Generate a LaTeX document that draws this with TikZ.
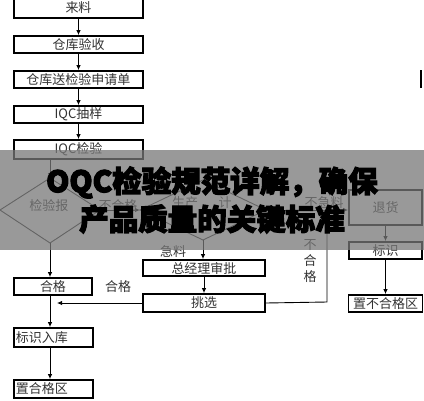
\documentclass[tikz,border=0pt]{standalone}
\usepackage{fontspec}
\setmainfont{Noto Sans CJK SC}
\newfontfamily\titlefont[BoldFeatures={FakeBold=4}]{Noto Sans CJK SC}
\usetikzlibrary{arrows.meta}
\begin{document}
\begin{tikzpicture}[x=1pt,y=-1pt,
  box/.style={draw=black,line width=1.8pt,fill=white,inner sep=0pt,font=\fontsize{13}{13}\selectfont,text=black!80},
  arr/.style={-{Latex[length=5pt,width=4.5pt]},line width=0.9pt},
  ln/.style={line width=0.9pt},
  lbl/.style={font=\fontsize{13}{13}\selectfont,text=black!80,inner sep=0pt},
  dia/.style={draw=black!85,line width=0.9pt}]
\useasboundingbox (0,0) rectangle (424,400);
\fill[white] (0,0) rectangle (424,400);

% left column
\node[box,minimum width=129pt,minimum height=21pt] (ll) at (78.5,7.5) {来料};
\node[box,minimum width=129pt,minimum height=17pt] (cs) at (78.5,44.5) {仓库验收};
\node[box,minimum width=129pt,minimum height=17pt] (sj) at (78.5,79.5) {仓库送检验申请单};
\node[box,minimum width=129pt,minimum height=17pt] (cy) at (78.5,114.5) {IQC抽样};
\node[box,minimum width=129pt,minimum height=19pt] (iqc) at (78.5,149.5) {IQC检验};
\draw[arr] (ll) -- (cs);
\draw[arr] (cs) -- (sj);
\draw[arr] (sj) -- (cy);
\draw[arr] (cy) -- (iqc);

% diamond 1
\coordinate (d1n) at (50,178);
\coordinate (d1e) at (100,210);
\coordinate (d1s) at (50,243);
\coordinate (d1w) at (0,210);
\draw[dia] (d1n) -- (d1e) -- (d1s) -- (d1w) -- cycle;
\node[lbl] (d1t) at (49,206) {检验报};
\draw[arr] (iqc.south -| d1n) -- (d1n);

% diamond 2
\coordinate (d2n) at (203,180);
\coordinate (d2e) at (266,210);
\coordinate (d2s) at (203,240);
\coordinate (d2w) at (140,210);
\draw[dia] (d2n) -- (d2e) -- (d2s) -- (d2w) -- cycle;
\node[lbl] (d2a) at (185,203) {生产};
\node[lbl] (d2b) at (225,203) {计};
\draw[arr] (d1e) -- (d2w);
\node[lbl] (bhg) at (118,206) {不合格};

% middle column
\node[box,minimum width=122pt,minimum height=16pt] (zjl) at (204,268) {总经理审批};
\node[box,minimum width=122pt,minimum height=18pt] (tx) at (204,303) {挑选};
\draw[arr] (d2s) -- (zjl.north -| d2s);
\node[lbl] (jl) at (173,252) {急料};
\draw[arr] (zjl) -- (tx);

% right column
\node[box,minimum width=73pt,minimum height=35pt] (th) at (385.5,207.5) {退货};
\node[box,minimum width=73pt,minimum height=17pt] (bs) at (385.5,250.5) {标识};
\node[box,minimum width=74pt,minimum height=17pt] (zbhg) at (385.5,303.5) {置不合格区};
\draw[arr] (th) -- (bs);
\draw[arr] (bs) -- (zbhg);
\draw[arr] (d2e) -- (th.west |- d2e);
\node[lbl] (bjl) at (324,203) {不急料};
\coordinate (jn) at (327,210);
\draw[ln] (tx.east) -- (327,302) -- (jn);
\node[lbl,align=center,font=\fontsize{13}{16}\selectfont] (bhg2) at (310,261) {不\\合\\格};

% left lower
\node[box,minimum width=78pt,minimum height=17pt] (hg) at (53,286.5) {合格};
\node[box,minimum width=79pt,minimum height=19pt,text width=75pt,align=left] (bsrk) at (53.5,337.5) {标识入库};
\node[box,minimum width=79pt,minimum height=18pt,text width=75pt,align=left] (zhg) at (53.5,389) {置合格区};
\draw[arr] (d1s) -- (hg.north -| d1s);
\draw[arr] (hg.south -| d1s) -- (bsrk.north -| d1s);
\draw[arr] (bsrk.south -| d1s) -- (zhg.north -| d1s);
\coordinate (hgin) at (57,303);
\draw[arr] (tx.west) -- (hgin);
\node[lbl] (hgl) at (118,287) {合格};

% stray line top right
\coordinate (s1) at (421,70);
\coordinate (s2) at (421,88);
\draw[line width=1.5pt] (s1) -- (s2);

% overlay band
\fill[fill={rgb,255:red,120;green,120;blue,120},opacity=0.75] (0,150) rectangle (424,250);

% title
\node[font=\titlefont\fontsize{29.5}{38}\selectfont\bfseries,align=center,text=black,inner sep=0pt] (title) at (212,200) {OQC检验规范详解，确保\\产品质量的关键标准};
\end{tikzpicture}
\end{document}
